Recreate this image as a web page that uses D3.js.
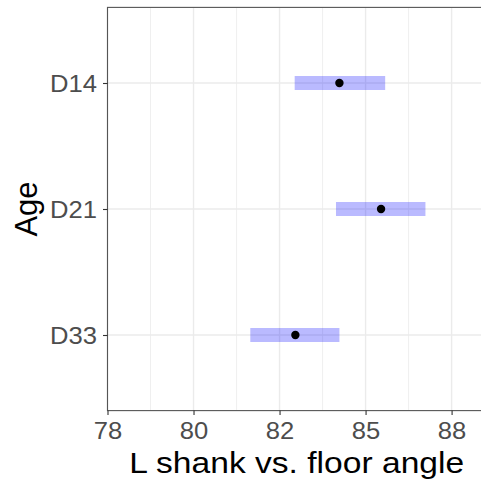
<!DOCTYPE html>
<html>
<head>
<meta charset="utf-8">
<script src="https://cdn.jsdelivr.net/npm/d3@7"></script>
<style>
  body { margin: 0; background: #fff; }
  svg { display: block; }
</style>
</head>
<body>
<div id="container"></div>
<script>
// chart data
var ages = ["D14", "D21", "D33"];
var means = [84.24, 85.45, 82.96];
var lower = [82.94, 84.14, 81.65];
var upper = [85.57, 86.74, 84.24];
var xTicks = [77.5, 80, 82.5, 85, 87.5];
var xTickLabels = ["78", "80", "82", "85", "88"];
var xMinor = [78.75, 81.25, 83.75, 86.25, 88.75];

var width = 481, height = 482;
var panel = {left: 107.5, top: 7.4, right: 486, bottom: 410.6};
var stretch = 1.09; // text in the picture looks a bit wide
var font = "'Liberation Sans', Arial, sans-serif";

var svg = d3.select("div#container")
  .append("svg")
  .attr("width", width)
  .attr("height", height);

var x = d3.scaleLinear()
  .domain([77.5, 88.5])
  .range([panel.left, panel.right]);

var y = d3.scalePoint()
  .domain(ages)
  .range([panel.top, panel.bottom])
  .padding(0.6);

// grid
svg.append("g").selectAll("line.minor")
  .data(xMinor)
  .enter().append("line")
  .attr("x1", function(d) { return x(d); })
  .attr("x2", function(d) { return x(d); })
  .attr("y1", panel.top).attr("y2", panel.bottom)
  .style("stroke", "#ebebeb").style("stroke-width", 0.8);

svg.append("g").selectAll("line.major")
  .data(xTicks)
  .enter().append("line")
  .attr("x1", function(d) { return x(d); })
  .attr("x2", function(d) { return x(d); })
  .attr("y1", panel.top).attr("y2", panel.bottom)
  .style("stroke", "#ebebeb").style("stroke-width", 1.4);

svg.append("g").selectAll("line.hmajor")
  .data(ages)
  .enter().append("line")
  .attr("x1", panel.left).attr("x2", panel.right)
  .attr("y1", function(d) { return y(d); })
  .attr("y2", function(d) { return y(d); })
  .style("stroke", "#ebebeb").style("stroke-width", 1.4);

// ranges
svg.append("g").selectAll("rect")
  .data(ages)
  .enter().append("rect")
  .attr("x", function(d, i) { return x(lower[i]); })
  .attr("width", function(d, i) { return x(upper[i]) - x(lower[i]); })
  .attr("y", function(d) { return y(d) - 7; })
  .attr("height", 14)
  .style("fill", "blue")
  .style("fill-opacity", 0.27);

// means
svg.append("g").selectAll("circle")
  .data(ages)
  .enter().append("circle")
  .attr("cx", function(d, i) { return x(means[i]); })
  .attr("cy", function(d) { return y(d); })
  .attr("r", 4.2)
  .style("fill", "black");

// panel border
svg.append("rect")
  .attr("x", panel.left).attr("y", panel.top)
  .attr("width", panel.right - panel.left)
  .attr("height", panel.bottom - panel.top)
  .style("fill", "none")
  .style("stroke", "#555")
  .style("stroke-width", 1.1);

// axes
var xAxis = svg.append("g")
  .attr("transform", "translate(0," + panel.bottom + ")")
  .call(d3.axisBottom(x).tickValues(xTicks).tickSize(4.5)
    .tickFormat(function(d, i) { return xTickLabels[i]; }));

var yAxis = svg.append("g")
  .attr("transform", "translate(" + panel.left + ",0)")
  .call(d3.axisLeft(y).tickSize(4.5));

[xAxis, yAxis].forEach(function(ax) {
  ax.select(".domain").remove();
  ax.selectAll(".tick line").style("stroke", "#333").style("stroke-width", 1.1);
  ax.selectAll(".tick text")
    .style("font-family", font)
    .style("font-size", "23.5px")
    .style("fill", "#4d4d4d");
});

xAxis.selectAll(".tick text")
  .attr("y", 0).attr("dy", 0)
  .attr("transform", "translate(0,28.3) scale(" + stretch + ",1)");

yAxis.selectAll(".tick text")
  .attr("x", 0).attr("dy", "0.36em")
  .attr("transform", "translate(-10.5,0) scale(" + stretch + ",1)");

// titles
svg.append("text")
  .attr("transform", "translate(296.7,473.3) scale(1.12,1)")
  .attr("text-anchor", "middle")
  .style("font-family", font)
  .style("font-size", "30px")
  .style("fill", "black")
  .text("L shank vs. floor angle");

svg.append("text")
  .attr("transform", "translate(37," + ((panel.top + panel.bottom) / 2) + ") rotate(-90)")
  .attr("text-anchor", "middle")
  .style("font-family", font)
  .style("font-size", "31px")
  .style("fill", "black")
  .text("Age");
</script>
</body>
</html>
